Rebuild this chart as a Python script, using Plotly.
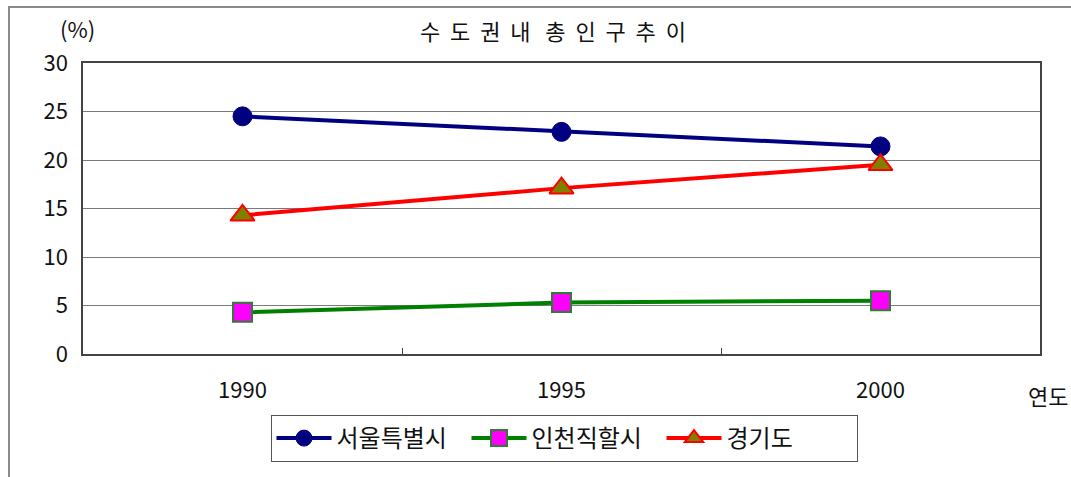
import plotly.graph_objects as go

# Population share within the capital region (%)
years = ["1990", "1995", "2000"]
seoul = [24.5, 22.9, 21.4]
incheon = [4.3, 5.3, 5.5]
gyeonggi = [14.3, 17.1, 19.5]
series_names = ["서울특별시", "인천직할시", "경기도"]

W, H = 1071, 477
L, R, T, B = 83, 31, 63, 123
PW, PH = W - L - R, H - T - B

def px_x(px):
    return (px - L) / PW

def px_y(py):
    return (H - B - py) / PH

KFONT = "Noto Sans CJK KR"

fig = go.Figure()
fig.add_trace(go.Scatter(
    x=years, y=seoul, name=series_names[0], mode="lines+markers",
    line=dict(color="#000080", width=4),
    marker=dict(symbol="circle", size=19, color="#000080",
                line=dict(color="#000080", width=1)),
))
fig.add_trace(go.Scatter(
    x=years, y=incheon, name=series_names[1], mode="lines+markers",
    line=dict(color="#008000", width=4),
    marker=dict(symbol="square", size=19, color="#FF00FF",
                line=dict(color="#2E7D32", width=2)),
))
fig.add_trace(go.Scatter(
    x=years, y=gyeonggi, name=series_names[2], mode="lines+markers",
    line=dict(color="#FF0000", width=4),
    marker=dict(symbol="triangle-up", size=21, color="#808000",
                line=dict(color="#FF0000", width=2)),
))

fig.update_layout(
    width=W, height=H,
    margin=dict(l=L, r=R, t=T, b=B, pad=0),
    paper_bgcolor="white", plot_bgcolor="white",
    font=dict(family=KFONT, color="#111111"),
    showlegend=True,
    legend=dict(
        orientation="h", x=px_x(564), y=px_y(415),
        xanchor="center", yanchor="top",
        font=dict(family=KFONT, size=24, color="#111111"),
        bordercolor="#555555", borderwidth=1, bgcolor="white",
        entrywidth=125, itemwidth=55,
    ),
    xaxis=dict(
        type="category", range=[-0.5, 2.5],
        showgrid=False, showline=True, linecolor="#444444", linewidth=1.5,
        mirror=True, ticks="inside", tickson="boundaries", ticklen=6,
        tickcolor="#444444",
        tickfont=dict(family=KFONT, size=22, color="#111111"),
        ticklabelstandoff=16,
    ),
    yaxis=dict(
        range=[0, 30], dtick=5, showgrid=True, gridcolor="#7a7a7a", gridwidth=1,
        showline=True, linecolor="#444444", linewidth=1.5, mirror=True,
        ticks="", zeroline=False,
        tickfont=dict(family=KFONT, size=22, color="#111111"),
        ticklabelstandoff=9,
    ),
)

fig.add_annotation(
    x=px_x(553), y=px_y(30), xref="paper", yref="paper",
    text="수  도  권  내   총  인  구  추  이", showarrow=False,
    font=dict(family=KFONT, size=22, color="#111111"),
    xanchor="center", yanchor="middle",
)
fig.add_annotation(
    x=px_x(77), y=px_y(28), xref="paper", yref="paper",
    text="(%)", showarrow=False,
    font=dict(family=KFONT, size=22, color="#111111"),
    xanchor="center", yanchor="middle",
)
fig.add_annotation(
    x=px_x(1048), y=px_y(395), xref="paper", yref="paper",
    text="연도", showarrow=False,
    font=dict(family=KFONT, size=22, color="#111111"),
    xanchor="center", yanchor="middle",
)

# outer chart frame
fig.add_shape(
    type="rect", xref="paper", yref="paper",
    x0=px_x(9), x1=px_x(1080), y0=px_y(490), y1=px_y(7),
    line=dict(color="#8a8a8a", width=2), fillcolor="rgba(0,0,0,0)",
    layer="below",
)

fig.write_html("out.html")
